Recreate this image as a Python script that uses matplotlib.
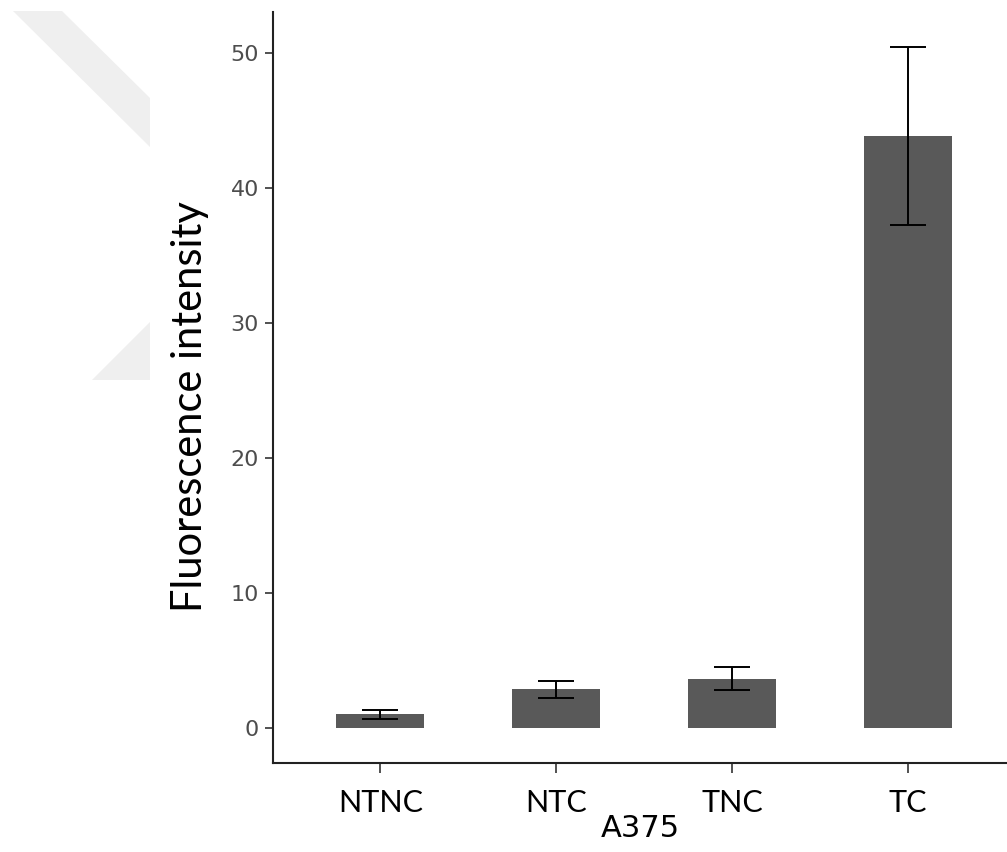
import numpy as np
import matplotlib.pyplot as plt
from matplotlib.patches import Polygon

# values
groups = ["NTNC", "NTC", "TNC", "TC"]
means = [1.0, 2.85, 3.65, 43.8]
errs = [0.32, 0.65, 0.85, 6.6]
y_ticks = [0, 10, 20, 30, 40, 50]

W, H = 1007, 852
fig = plt.figure(figsize=(W / 100, H / 100), dpi=100)

# faint watermark shapes in the top-left corner (pixel coords -> figure coords)
def px(pts):
    return [(x / W, 1 - y / H) for x, y in pts]

fig.patches.append(Polygon(px([(13, 11), (62, 11), (150, 98), (150, 147)]),
                           closed=True, transform=fig.transFigure,
                           facecolor="#efefef", edgecolor="none", zorder=0))
fig.patches.append(Polygon(px([(150, 322), (150, 380), (92, 380)]),
                           closed=True, transform=fig.transFigure,
                           facecolor="#efefef", edgecolor="none", zorder=0))

ax = fig.add_axes([273 / W, 1 - 763 / H, (W - 273) / W + 0.01, (763 - 12) / H])
ax.patch.set_alpha(0)

x = np.arange(len(groups))
ax.bar(x, means, width=0.5, color="#595959", zorder=2)
ax.errorbar(x, means, yerr=errs, fmt="none", ecolor="black",
            elinewidth=1.4, capsize=13, capthick=1.4, zorder=3)

ax.set_xlim(-0.61, 3.62)
ax.set_ylim(-2.6, 53.0)
ax.set_yticks(y_ticks)
ax.set_xticks(x)
ax.set_xticklabels(groups, family="Lato", fontsize=22, color="black")
ax.tick_params(axis="y", labelsize=16, labelcolor="#4d4d4d", color="#333333",
               length=6, width=1.2, pad=4)
ax.tick_params(axis="x", color="#333333", length=7, width=1.2, pad=12)

for s in ["top", "right"]:
    ax.spines[s].set_visible(False)
for s in ["left", "bottom"]:
    ax.spines[s].set_color("#222222")
    ax.spines[s].set_linewidth(1.5)

ax.set_ylabel("Fluorescence intensity", family="Lato", fontsize=30,
              color="black")
ax.yaxis.set_label_coords(-0.086, 0.475)
ax.set_xlabel("A375", fontsize=22, color="black")
ax.xaxis.set_label_coords(0.5 - 5 / 734, -0.068)

fig.savefig("out.png", dpi=100)
